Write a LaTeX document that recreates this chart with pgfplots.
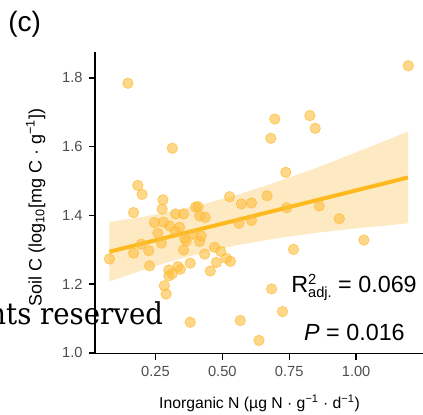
\documentclass[border=0pt]{standalone}
\usepackage{pgfplots}
\pgfplotsset{compat=1.18}
\usepackage{fontspec}
\setmainfont{Liberation Sans}
\newfontfamily\wmfont{DejaVu Serif}
\definecolor{ptcol}{RGB}{254,190,60}
\definecolor{lncol}{RGB}{253,185,30}
\definecolor{ribcol}{RGB}{253,234,195}
\definecolor{tkcol}{RGB}{77,77,77}
\begin{document}
\begin{tikzpicture}[x=1pt,y=1pt]
\useasboundingbox (-71.25,-45.375) rectangle (246,265.125);
\begin{axis}[
  at={(0,0)}, anchor=south west,
  scale only axis,
  width=246pt, height=226.125pt,
  xmin=0.024, xmax=1.25, ymin=0.998, ymax=1.875,
  axis x line*=bottom, axis y line*=left,
  axis line style={line width=1.3pt,-},
  every tick/.style={line width=1.1pt, black},
  tick align=outside, major tick length=4.8pt,
  xtick={0.25,0.5,0.75,1.0}, xticklabels={0.25,0.50,0.75,1.00},
  ytick={1.0,1.2,1.4,1.6,1.8}, yticklabels={1.0,1.2,1.4,1.6,1.8},
  ticklabel style={font=\fontsize{11}{12}\selectfont, text=tkcol},
  xticklabel style={yshift=-1pt},
  yticklabel style={xshift=-1pt},
  clip=false,
]
\addplot[draw=none, fill=ribcol, forget plot] coordinates {
(0.078,1.2075) (0.2,1.2401) (0.3,1.2643) (0.42,1.2897) (0.55,1.3124) (0.7,1.3328) (0.85,1.3489) (1.0,1.3621) (1.194,1.3765)
(1.194,1.6435) (1.0,1.5829) (0.85,1.5379) (0.7,1.4960) (0.55,1.4584) (0.42,1.4307) (0.3,1.4097) (0.2,1.3951) (0.078,1.3805)
} -- cycle;
\addplot[only marks, mark=*, mark size=3.9pt,
  mark options={draw=ptcol, fill=ptcol, fill opacity=0.6, draw opacity=0.75, line width=0.6pt}]
  table[row sep=\\] {
x y\\
0.147 1.784\\ 1.195 1.835\\ 0.313 1.595\\ 0.696 1.680\\ 0.827 1.690\\
0.847 1.653\\ 0.681 1.624\\ 0.737 1.525\\ 0.184 1.487\\ 0.200 1.461\\
0.278 1.445\\ 0.275 1.418\\ 0.168 1.408\\ 0.527 1.454\\ 0.571 1.433\\
0.609 1.436\\ 0.667 1.457\\ 0.740 1.422\\ 0.862 1.427\\ 0.937 1.390\\
1.029 1.328\\ 0.766 1.301\\ 0.325 1.404\\ 0.355 1.404\\ 0.400 1.424\\
0.409 1.425\\ 0.415 1.398\\ 0.436 1.394\\ 0.246 1.379\\ 0.303 1.369\\
0.259 1.348\\ 0.325 1.353\\ 0.272 1.319\\ 0.359 1.333\\ 0.365 1.325\\
0.421 1.340\\ 0.415 1.324\\ 0.197 1.316\\ 0.168 1.290\\ 0.225 1.297\\
0.355 1.299\\ 0.078 1.273\\ 0.228 1.253\\ 0.434 1.287\\ 0.471 1.307\\
0.494 1.295\\ 0.515 1.275\\ 0.530 1.266\\ 0.478 1.263\\ 0.380 1.261\\
0.334 1.251\\ 0.300 1.241\\ 0.313 1.230\\ 0.300 1.224\\ 0.343 1.243\\
0.455 1.238\\ 0.283 1.195\\ 0.290 1.171\\ 0.684 1.186\\ 0.725 1.120\\
0.380 1.089\\ 0.567 1.094\\ 0.637 1.036\\ 0.562 1.377\\ 0.609 1.385\\
0.340 1.365\\ 0.390 1.345\\ 0.280 1.380\\
};
\addplot[lncol, line width=3pt] coordinates {(0.078,1.294) (1.194,1.510)};
\end{axis}
% axis titles
\node[anchor=base, font=\fontsize{11.8}{14}\selectfont] at (123.4,-40.9) {Inorganic N (µg N · g\textsuperscript{−1} · d\textsuperscript{−1})};
\node[anchor=base, rotate=90, font=\fontsize{13.5}{15}\selectfont] at (-40.1,109.5) {Soil C (log\textsubscript{10}[mg C · g\textsuperscript{−1}])};
% panel label
\node[anchor=base west, inner sep=0pt, font=\fontsize{21}{24}\selectfont] at (-65.25,241.5) {(c)};
% statistics
\node[anchor=base, inner sep=0pt, font=\fontsize{17.5}{20}\selectfont] at (194.25,45.4)
  {R\rlap{\raisebox{0.38em}{\fontsize{11}{12}\selectfont 2}}\raisebox{-0.2em}{\fontsize{11}{12}\selectfont adj.} = 0.069};
\node[anchor=base, inner sep=0pt, font=\fontsize{17.5}{20}\selectfont] at (194.6,9.6) {\textit{P} = 0.016};
% watermark fragment
\node[overlay, anchor=base east, inner sep=0pt, xscale=0.92, font=\wmfont\fontsize{22.5}{26}\selectfont] at (51.2,21.9) {All rights reserved};
\end{tikzpicture}
\end{document}
